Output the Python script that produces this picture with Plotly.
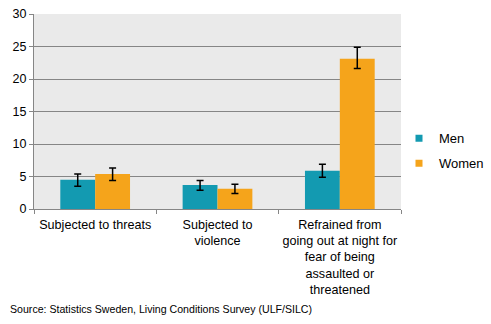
import plotly.graph_objects as go

categories = ["Subjected to threats", "Subjected to<br>violence",
              "Refrained from<br>going out at night for<br>fear of being<br>assaulted or<br>threatened"]
men = [4.5, 3.7, 5.9]
men_low = [3.5, 2.9, 4.9]
men_high = [5.4, 4.4, 6.9]
women = [5.4, 3.1, 23.1]
women_low = [4.4, 2.4, 21.6]
women_high = [6.3, 3.8, 24.9]
y_ticks = [0, 5, 10, 15, 20, 25, 30]

MEN_C = "#139AB1"
WOMEN_C = "#F5A41B"
FONT = "Liberation Sans, Arial, sans-serif"

xpos = list(range(len(categories)))

fig = go.Figure()
for name, vals, lo, hi, col in [("Men", men, men_low, men_high, MEN_C),
                                ("Women", women, women_low, women_high, WOMEN_C)]:
    fig.add_trace(go.Bar(
        x=xpos, y=vals, name=name, marker=dict(color=col, line=dict(width=0)),
        showlegend=False,
        error_y=dict(type="data", symmetric=False,
                     array=[h - v for h, v in zip(hi, vals)],
                     arrayminus=[v - l for v, l in zip(vals, lo)],
                     color="black", thickness=1.5, width=3.5),
    ))
    fig.add_trace(go.Scatter(
        x=[None], y=[None], mode="markers", name=name, legendgroup=name,
        marker=dict(symbol="square", size=7, color=col),
    ))

fig.add_trace(go.Scatter(x=xpos, y=[None] * len(xpos), xaxis="x2",
                         showlegend=False, hoverinfo="skip"))

fig.update_layout(
    width=491, height=324,
    margin=dict(l=34, r=90, t=14, b=115, autoexpand=False),
    paper_bgcolor="white", plot_bgcolor="#EAEAEA",
    font=dict(family=FONT, size=12, color="black"),
    barmode="group", bargap=0.43, bargroupgap=0,
    xaxis=dict(range=[-0.5, 2.5], tickvals=[-0.5, 0.5, 1.5, 2.5],
               ticktext=["", "", "", ""], ticks="outside", ticklen=4,
               tickcolor="#868686", showgrid=False, zeroline=False,
               showline=True, linecolor="#868686", linewidth=1,
               automargin=False),
    xaxis2=dict(range=[-0.5, 2.5], overlaying="x", side="bottom",
                tickvals=xpos, ticktext=categories, ticks="", showgrid=False,
                zeroline=False, showline=False, tickfont=dict(size=12.6),
                ticklabelstandoff=6, automargin=False),
    yaxis=dict(range=[0, 30], tickvals=y_ticks, ticks="outside", ticklen=4,
               tickcolor="#868686", showgrid=True, gridcolor="#868686",
               gridwidth=1, zeroline=False, showline=True,
               linecolor="#868686", linewidth=1, automargin=False,
               tickfont=dict(size=12.5)),
    legend=dict(x=(399 - 34) / 367, y=0.298, xanchor="left", yanchor="middle",
                tracegroupgap=5, font=dict(size=13), itemwidth=30,
                bgcolor="rgba(0,0,0,0)"),
    annotations=[dict(text="Source: Statistics Sweden, Living Conditions Survey (ULF/SILC)",
                      xref="paper", yref="paper", x=-0.071, y=-0.513,
                      xanchor="left", yanchor="middle", showarrow=False,
                      font=dict(size=10.6))],
)

fig.write_html("out.html")
